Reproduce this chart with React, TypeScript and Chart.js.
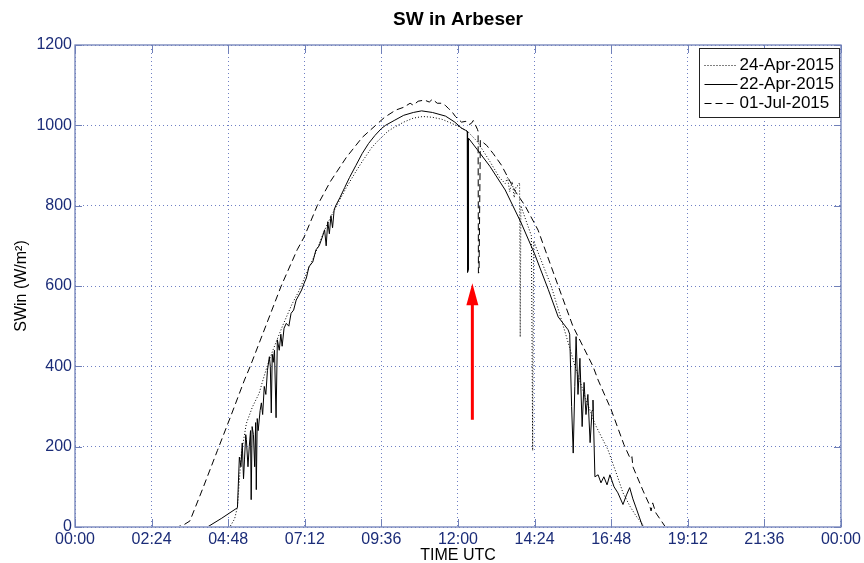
import React, { useEffect, useRef } from 'react';
import { Chart, registerables } from 'chart.js';

Chart.register(...registerables);

// ---------- data ----------
const TITLE = 'SW in Arbeser';
const X_LABEL = 'TIME UTC';
const Y_LABEL = 'SWin (W/m²)';

const X_TICK_HOURS = [0, 2.4, 4.8, 7.2, 9.6, 12, 14.4, 16.8, 19.2, 21.6, 24];
const X_TICK_LABELS = ['00:00', '02:24', '04:48', '07:12', '09:36', '12:00', '14:24', '16:48', '19:12', '21:36', '00:00'];
const Y_TICKS = [0, 200, 400, 600, 800, 1000, 1200];

const SERIES_LABELS = ['24-Apr-2015', '22-Apr-2015', '01-Jul-2015'];

// 24-Apr-2015 (dotted)
const T_APR24 = [0, 4.85, 5.0, 5.09, 5.21, 5.37, 5.56, 5.77, 5.86, 6.0, 6.2, 6.5, 6.8, 7.0, 7.3, 7.5, 7.8, 8.0, 8.3, 8.5, 8.8, 9.0, 9.3, 9.5, 9.8, 10.0, 10.3, 10.6, 10.9, 11.2, 11.5, 11.8, 12.0, 12.3, 12.6, 13.0, 13.3, 13.48, 13.55, 13.62, 13.7, 13.76, 13.82, 13.88, 13.93, 13.95, 13.97, 14.1, 14.3, 14.34, 14.37, 14.6, 14.92, 15.3, 15.67, 16.0, 16.3, 16.7, 17.0, 17.17, 17.4, 17.6, 17.85, 24];
const SW_APR24 = [0, 0, 20, 50, 183, 258, 299, 333, 358, 395, 440, 500, 555, 585, 640, 675, 735, 770, 815, 845, 885, 910, 945, 962, 985, 995, 1008, 1018, 1022, 1020, 1015, 1005, 998, 985, 960, 910, 870, 855, 870, 835, 860, 820, 848, 850, 857, 473, 800, 770, 725, 190, 712, 665, 600, 500, 400, 320, 255, 192, 125, 85, 50, 25, 0, 0];

// 22-Apr-2015 (solid)
const T_APR22 = [0, 4.15, 4.6, 5.09, 5.15, 5.2, 5.24, 5.28, 5.31, 5.35, 5.37, 5.42, 5.46, 5.5, 5.52, 5.55, 5.59, 5.63, 5.66, 5.68, 5.71, 5.74, 5.8, 5.84, 5.88, 5.93, 5.98, 6.03, 6.09, 6.12, 6.15, 6.18, 6.21, 6.25, 6.3, 6.34, 6.4, 6.45, 6.49, 6.55, 6.62, 6.7, 6.77, 6.85, 6.93, 7.0, 7.1, 7.18, 7.25, 7.33, 7.45, 7.55, 7.65, 7.75, 7.82, 7.87, 7.92, 7.97, 8.02, 8.07, 8.12, 8.17, 8.3, 8.45, 8.6, 8.8, 9.0, 9.2, 9.4, 9.6, 9.73, 10.0, 10.3, 10.6, 10.86, 11.2, 11.61, 11.9, 12.11, 12.23, 12.29, 12.3, 12.32, 12.33, 12.6, 13.0, 13.48, 13.98, 14.4, 14.83, 15.14, 15.45, 15.5, 15.56, 15.61, 15.66, 15.7, 15.76, 15.82, 15.89, 15.95, 16.01, 16.07, 16.14, 16.2, 16.23, 16.29, 16.39, 16.48, 16.57, 16.67, 16.76, 16.89, 17.01, 17.17, 17.28, 17.38, 17.48, 17.57, 17.79, 24];
const SW_APR22 = [0, 0, 22, 48, 174, 150, 209, 120, 167, 230, 218, 150, 200, 240, 68, 250, 230, 150, 260, 93, 270, 240, 290, 309, 280, 350, 330, 390, 424, 400, 284, 430, 410, 440, 272, 466, 440, 480, 450, 495, 507, 500, 532, 540, 565, 575, 590, 607, 620, 648, 660, 690, 700, 722, 740, 700, 760, 730, 775, 745, 790, 800, 820, 845, 870, 900, 930, 955, 975, 992, 1000, 1012, 1025, 1032, 1036, 1032, 1023, 1008, 993, 988, 985, 634, 640, 968, 940, 898, 839, 757, 680, 591, 523, 491, 480, 300, 184, 350, 474, 330, 420, 250, 360, 280, 330, 210, 290, 316, 125, 130, 110, 125, 105, 130, 100, 85, 56, 80, 98, 70, 50, 0, 0];

// 01-Jul-2015 (dashed)
const T_JUL01 = [0, 3.2, 3.4, 3.6, 4.0, 4.46, 4.9, 5.31, 5.49, 6.0, 6.46, 6.96, 7.18, 7.59, 8.0, 8.5, 9.0, 9.42, 9.7, 10.05, 10.3, 10.5, 10.6, 10.75, 10.95, 11.1, 11.2, 11.35, 11.49, 11.6, 11.7, 11.8, 11.92, 12.11, 12.25, 12.35, 12.42, 12.48, 12.61, 12.63, 12.64, 12.66, 12.7, 12.9, 13.1, 13.36, 13.6, 13.8, 14.1, 14.51, 15.14, 15.6, 16.23, 16.39, 16.8, 17.2, 17.4, 17.45, 17.48, 17.8, 18.0, 18.05, 18.1, 18.2, 18.5, 24];
const SW_JUL01 = [0, 0, 5, 15, 95, 190, 280, 366, 400, 505, 600, 690, 722, 800, 860, 920, 970, 1000, 1020, 1038, 1045, 1055, 1050, 1060, 1063, 1058, 1065, 1055, 1055, 1050, 1042, 1035, 1022, 1008, 1010, 1002, 1005, 1012, 990, 985, 632, 635, 963, 950, 930, 901, 865, 835, 800, 739, 600, 500, 400, 366, 292, 205, 170, 175, 150, 90, 55, 40, 60, 35, 0, 0];

// red arrow annotation (hour, from value, to value)
const ARROW_HOUR = 12.45;
const ARROW_FROM = 267;
const ARROW_TO = 607;

// ---------- styles ----------
const FONT = '"Liberation Sans", Arial, Helvetica, sans-serif';
const NAVY = '#1b2c78';
const AXIS = '#7080b8';
const GRID = '#6f80c4';

const toPoints = (t: number[], v: number[]) => t.map((x, i) => ({ x, y: v[i] }));

const framePlugin = {
  id: 'frame',
  afterDraw(chart: any) {
    const { ctx, chartArea: a, scales } = chart;
    ctx.save();
    ctx.strokeStyle = AXIS;
    ctx.lineWidth = 1.3;
    ctx.setLineDash([]);
    ctx.strokeRect(a.left, a.top, a.right - a.left, a.bottom - a.top);
    ctx.lineWidth = 1;
    ctx.beginPath();
    X_TICK_HOURS.forEach((h) => {
      const x = Math.round(scales.x.getPixelForValue(h)) + 0.5;
      ctx.moveTo(x, a.bottom);
      ctx.lineTo(x, a.bottom - 8);
      ctx.moveTo(x, a.top);
      ctx.lineTo(x, a.top + 8);
    });
    Y_TICKS.forEach((v) => {
      const y = Math.round(scales.y.getPixelForValue(v)) + 0.5;
      ctx.moveTo(a.left, y);
      ctx.lineTo(a.left + 7, y);
      ctx.moveTo(a.right, y);
      ctx.lineTo(a.right - 7, y);
    });
    ctx.stroke();

    // title centred over the plot area
    ctx.fillStyle = '#000';
    ctx.font = `bold 19px ${FONT}`;
    ctx.textAlign = 'center';
    ctx.textBaseline = 'middle';
    ctx.fillText(TITLE, (a.left + a.right) / 2, a.top - 25);

    // legend box
    const boxW = 140;
    const boxH = 69;
    const bx = Math.round(a.right - 2 - boxW) + 0.5;
    const by = Math.round(a.top + 3) + 0.5;
    ctx.fillStyle = '#fff';
    ctx.fillRect(bx, by, boxW, boxH);
    ctx.strokeStyle = '#222';
    ctx.strokeRect(bx, by, boxW, boxH);
    ctx.font = `17px ${FONT}`;
    ctx.textAlign = 'left';
    chart.data.datasets.forEach((ds: any, i: number) => {
      const y = Math.round(by + 16 + i * 19) + 0.5;
      ctx.beginPath();
      ctx.strokeStyle = '#000';
      ctx.setLineDash(ds.borderDash || []);
      ctx.moveTo(bx + 5, y);
      ctx.lineTo(bx + 38, y);
      ctx.stroke();
      ctx.setLineDash([]);
      ctx.fillStyle = '#000';
      ctx.fillText(ds.label, bx + 40, y);
    });
    ctx.restore();
  },
};

const arrowPlugin = {
  id: 'arrow',
  afterDatasetsDraw(chart: any) {
    const { ctx, scales } = chart;
    const x = scales.x.getPixelForValue(ARROW_HOUR);
    const y0 = scales.y.getPixelForValue(ARROW_FROM);
    const y1 = scales.y.getPixelForValue(ARROW_TO);
    const head = 22;
    ctx.save();
    ctx.strokeStyle = '#ff0000';
    ctx.fillStyle = '#ff0000';
    ctx.lineWidth = 3;
    ctx.beginPath();
    ctx.moveTo(x, y0);
    ctx.lineTo(x, y1 + head - 2);
    ctx.stroke();
    ctx.beginPath();
    ctx.moveTo(x, y1);
    ctx.lineTo(x - 6, y1 + head);
    ctx.lineTo(x + 6, y1 + head);
    ctx.closePath();
    ctx.fill();
    ctx.restore();
  },
};

export default function App() {
  const ref = useRef<HTMLCanvasElement>(null);

  useEffect(() => {
    document.body.style.margin = '0';
    const canvas = ref.current!;
    const lineBase = {
      borderColor: '#000',
      borderWidth: 1,
      pointRadius: 0,
      tension: 0,
      fill: false,
      clip: { left: 0, top: 0, right: 0, bottom: -1 },
    };
    const chart = new Chart(canvas, {
      type: 'line',
      data: {
        datasets: [
          { ...lineBase, label: SERIES_LABELS[0], data: toPoints(T_APR24, SW_APR24), borderDash: [1, 2] },
          { ...lineBase, label: SERIES_LABELS[1], data: toPoints(T_APR22, SW_APR22), borderDash: [] },
          { ...lineBase, label: SERIES_LABELS[2], data: toPoints(T_JUL01, SW_JUL01), borderDash: [7, 4] },
        ],
      },
      options: {
        responsive: false,
        animation: false,
        devicePixelRatio: 1,
        layout: { padding: { left: 0, right: 20, top: 45, bottom: 0 } },
        plugins: {
          legend: { display: false },
          tooltip: { enabled: false },
          title: { display: false },
        },
        scales: {
          x: {
            type: 'linear',
            min: 0,
            max: 24,
            afterBuildTicks: (axis: any) => {
              axis.ticks = X_TICK_HOURS.map((value) => ({ value }));
            },
            afterFit: (scale: any) => {
              scale.height = 36;
            },
            ticks: {
              autoSkip: false,
              maxRotation: 0,
              padding: 3,
              color: NAVY,
              font: { family: FONT, size: 16 },
              callback: (_v: any, i: number) => X_TICK_LABELS[i],
            },
            grid: { color: GRID, drawTicks: false, lineWidth: 1 },
            border: { display: false, dash: [1, 3] },
            title: {
              display: true,
              text: X_LABEL,
              color: '#000',
              font: { family: FONT, size: 16, lineHeight: 0.9 },
              padding: 0,
            },
          },
          y: {
            type: 'linear',
            min: 0,
            max: 1200,
            afterBuildTicks: (axis: any) => {
              axis.ticks = Y_TICKS.map((value) => ({ value }));
            },
            afterFit: (scale: any) => {
              scale.width = 75;
            },
            ticks: {
              padding: 3,
              color: NAVY,
              font: { family: FONT, size: 16 },
              callback: (v: any) => String(v),
            },
            grid: { color: GRID, drawTicks: false, lineWidth: 1 },
            border: { display: false, dash: [1, 3] },
            title: {
              display: true,
              text: Y_LABEL,
              color: '#000',
              font: { family: FONT, size: 16 },
              padding: { top: 12, bottom: 0 },
            },
          },
        },
      },
      plugins: [arrowPlugin, framePlugin],
    });
    return () => chart.destroy();
  }, []);

  return <canvas ref={ref} width={864} height={563} style={{ display: 'block' }} />;
}
